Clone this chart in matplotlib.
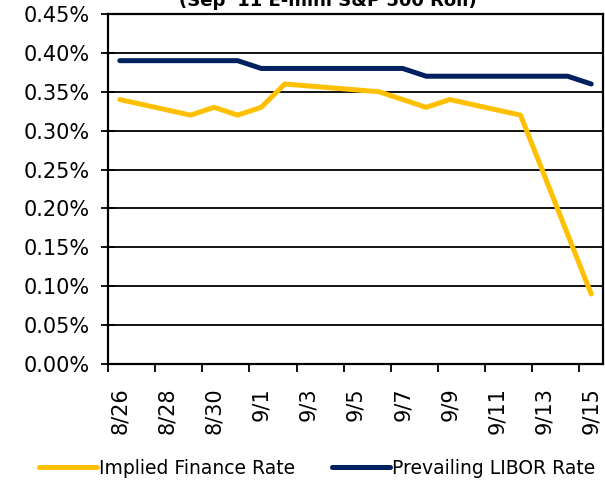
import matplotlib
matplotlib.use('Agg')
import matplotlib.pyplot as plt
from matplotlib.ticker import FixedLocator, PercentFormatter

# day index 0 = 8/26 (daily axis, values only on observed days)
dayLabels = ['8/26', '8/28', '8/30', '9/1', '9/3', '9/5',
             '9/7', '9/9', '9/11', '9/13', '9/15']

impliedDays = [0, 3, 4, 5, 6, 7, 11, 13, 14, 17, 20]
impliedRate = [0.34, 0.32, 0.33, 0.32, 0.33, 0.36, 0.35, 0.33, 0.34, 0.32, 0.09]

liborDays = [0, 5, 6, 12, 13, 19, 20]
liborRate = [0.39, 0.39, 0.38, 0.38, 0.37, 0.37, 0.36]

yellow = '#FFC000'
navy = '#002060'

plt.rcParams['font.family'] = ['DejaVu Sans']

fig = plt.figure(figsize=(6.05, 4.8), dpi=100)
ax = fig.add_axes([108 / 605, 1 - 364 / 480, 495 / 605, 350 / 480])

ax.plot(impliedDays, impliedRate, color=yellow, linewidth=3.6,
        solid_capstyle='round', solid_joinstyle='round',
        label='Implied Finance Rate', zorder=3)
ax.plot(liborDays, liborRate, color=navy, linewidth=3.6,
        solid_capstyle='round', solid_joinstyle='round',
        label='Prevailing LIBOR Rate', zorder=3)

ax.set_xlim(-0.5, 20.5)
ax.set_ylim(0, 0.45)

# y axis: gridlines every 0.05%
yticks = [i * 0.05 for i in range(10)]
ax.set_yticks(yticks)
ax.yaxis.set_major_formatter(PercentFormatter(decimals=2))
ax.yaxis.grid(True, color='black', linewidth=1.3)
ax.set_axisbelow(True)
ax.tick_params(axis='y', direction='inout', length=10, width=1.3,
               labelsize=15, pad=8)

# x axis: tick marks between days, labels on days
ax.xaxis.set_major_locator(FixedLocator([-0.5 + 2 * i for i in range(11)]))
ax.xaxis.set_major_formatter(plt.NullFormatter())
ax.xaxis.set_minor_locator(FixedLocator([2 * i for i in range(11)]))
ax.set_xticklabels(dayLabels, minor=True, rotation=90, va='top', ha='center')
ax.tick_params(axis='x', which='major', direction='out', length=6, width=1.3)
ax.tick_params(axis='x', which='minor', length=0, labelsize=15, pad=17)

for spine in ax.spines.values():
    spine.set_linewidth(1.6)
    spine.set_color('black')

fig.text(328 / 605, 1 - 6 / 480, "(Sep '11 E-mini S&P 500 Roll)",
         ha='center', va='baseline', fontsize=13, fontweight='bold')

fig.legend(loc='center', bbox_to_anchor=(317 / 605, 1 - 468 / 480),
           ncol=2, frameon=False, fontsize=13.5, handlelength=3.1,
           handletextpad=0.1, columnspacing=2.0)

fig.savefig('out.png', dpi=100)
